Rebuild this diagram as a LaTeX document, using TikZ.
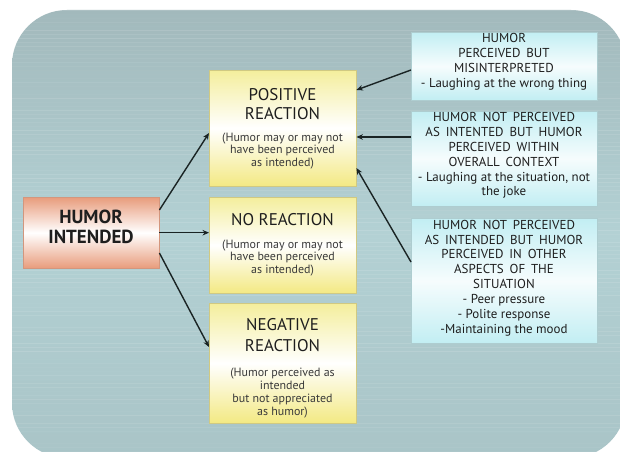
\documentclass[tikz,border=0pt]{standalone}
\usepackage{fontspec}
\setmainfont{PT Sans}
\usetikzlibrary{arrows.meta,calc}
\definecolor{bgtop}{HTML}{A2B9BC}
\definecolor{bgmid}{HTML}{B3D1D4}
\definecolor{bgbot}{HTML}{A9C4C7}
\definecolor{yel}{HTML}{F4EE9C}
\definecolor{yelb}{HTML}{F3E983}
\definecolor{cya}{HTML}{C2EEF3}
\definecolor{sal}{HTML}{E89C7C}
\definecolor{txt}{HTML}{1E1E1E}
\definecolor{subtxt}{HTML}{3A3A3A}
\definecolor{arrc}{HTML}{1A2424}
\newcommand\wsp{\hspace{0.45em}}
\tikzset{
  boxbase/.style n args={2}{rectangle, inner sep=0pt, anchor=north west,
    minimum width=#1, minimum height=#2},
  ybox/.style={top color=yel, bottom color=yelb, middle color=white, draw=yelb!70!gray, line width=0.4bp},
  cbox/.style={top color=cya, bottom color=cya, middle color=white!85!cya, draw=cya!70!gray, line width=0.4bp},
  obox/.style={top color=sal, bottom color=sal, middle color=white, draw=sal!80!gray, line width=0.4bp},
  ltitle/.style={align=center, text=txt, font=\fontsize{17}{18.5}\selectfont, inner sep=0pt},
  lsub/.style={align=center, text=subtxt, font=\fontsize{12}{12.8}\selectfont, inner sep=0pt},
  rtext/.style={align=center, text=txt, font=\fontsize{13}{14.9}\selectfont, inner sep=0pt},
  arr/.style={draw=arrc, line width=1.4bp, -{Stealth[length=6.5bp,width=5.5bp]}}
}
\begin{document}
\begin{tikzpicture}[x=1bp,y=-1bp]
\useasboundingbox (0,0) rectangle (620,452);
\fill[white] (0,0) rectangle (620,452);
\begin{scope}
  \clip (0,0) rectangle (620,452);
  \shade[top color=bgtop, bottom color=bgbot, middle color=bgmid, rounded corners=55bp] (12,10) rectangle (626,458);
  \clip[rounded corners=55bp] (12,10) rectangle (626,458);
  \pgfmathsetseed{7}
  \foreach \i in {0,...,110} {
    \pgfmathsetmacro\op{0.13*rnd}
    \draw[white, opacity=\op, line width=1bp] (12,11+4*\i) -- (626,11+4*\i);
  }
\end{scope}

% boxes
\node[boxbase={136bp}{71bp}, obox] (hi) at (23,197) {};
\node[boxbase={147bp}{116bp}, ybox] (pos) at (209,70) {};
\node[boxbase={147bp}{96bp}, ybox] (no) at (209,197) {};
\node[boxbase={147bp}{120bp}, ybox] (neg) at (209,303) {};
\node[boxbase={186bp}{68bp}, cbox] (r1) at (411,32) {};
\node[boxbase={186bp}{95bp}, cbox] (r2) at (411,111) {};
\node[boxbase={186bp}{125bp}, cbox] (r3) at (411,218) {};

% texts
\node[ltitle, font=\fontsize{19}{20}\selectfont\bfseries] (hiT) at (91,227) {HUMOR\\INTENDED};
\node[ltitle] (posT) at (282.5,104) {POSITIVE\\REACTION};
\node[lsub] (posS) at (282.5,151) {(Humor may or may not\\have been perceived\\as intended)};
\node[ltitle] (noT) at (282.5,220) {NO REACTION};
\node[lsub] (noS) at (282.5,258) {(Humor may or may not\\have been perceived\\as intended)};
\node[ltitle, font=\fontsize{17}{21}\selectfont] (negT) at (282.5,335.5) {NEGATIVE\\REACTION};
\node[lsub] (negS) at (282.5,393) {(Humor perceived as\\intended\\but not appreciated\\as humor)};

\node[rtext] (r1T) at (504,61.5) {HUMOR\\PERCEIVED\wsp BUT\\MISINTERPRETED\\- Laughing at the wrong thing};
\node[rtext] (r2T) at (504,155.5) {HUMOR\wsp NOT\wsp PERCEIVED\\AS\wsp INTENTED\wsp BUT\wsp HUMOR\\PERCEIVED\wsp WITHIN\\OVERALL\wsp CONTEXT\\- Laughing at the situation, not\\the joke};
\node[rtext] (r3T) at (504,278) {HUMOR\wsp NOT\wsp PERCEIVED\\AS\wsp INTENDED\wsp BUT\wsp HUMOR\\PERCEIVED\wsp IN\wsp OTHER\\ASPECTS\wsp OF\wsp THE\\SITUATION\\- Peer pressure\\- Polite response\\-Maintaining the mood};

% connectors
\draw[arr] ($(hi.north east)+(0,13)$) -- ($(pos.north west)+(0,63)$);
\draw[arr] (hi.east) -- (hi.east -| no.west);
\draw[arr] ($(hi.north east)+(0,56)$) -- ($(neg.north west)+(0,44)$);
\draw[arr] ($(r1.north west)+(0,38)$) -- ($(pos.north east)+(0,20)$);
\draw[arr] ($(r2.north west)+(0,26)$) -- ($(pos.north east)+(0,67)$);
\draw[arr] ($(r3.north west)+(0,44)$) -- ($(pos.north east)+(0,98)$);
\end{tikzpicture}
\end{document}
